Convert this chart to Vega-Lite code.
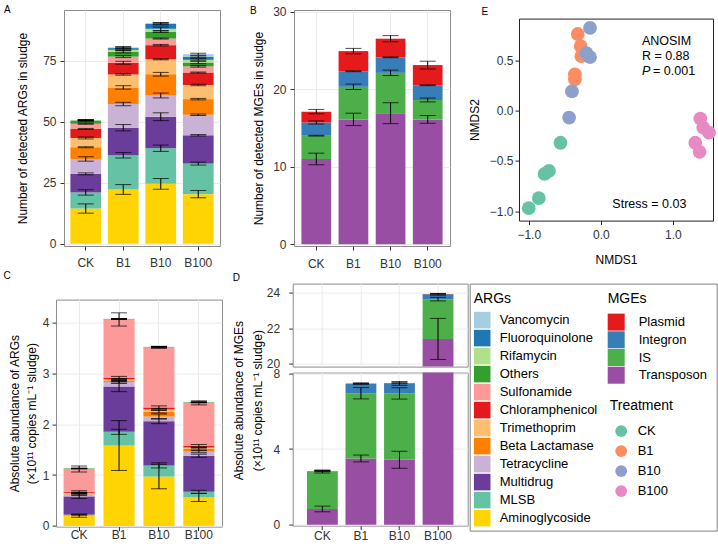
{
  "$schema": "https://vega.github.io/schema/vega-lite/v6.json",
  "padding": {"left": 2, "top": 4, "right": 0, "bottom": 0},
  "spacing": 0.6,
  "resolve": {"scale": {"color": "independent"}, "legend": {"color": "independent"}},
  "config": {
    "font": "Liberation Sans",
    "view": {"stroke": "#8c8c8c"},
    "axis": {"labelFont": "Liberation Sans", "labelFontSize": 12, "labelColor": "#333333", "titleFont": "Liberation Sans", "titleFontSize": 12, "titleFontWeight": "normal", "titleColor": "#000000", "tickColor": "#333333", "tickSize": 4, "domain": false, "gridColor": "#EBEBEB", "labelPadding": 4},
    "title": {"font": "Liberation Sans", "fontSize": 10, "fontWeight": "normal", "anchor": "start", "frame": "group", "offset": 0, "color": "#000000"},
    "legend": {"labelFont": "Liberation Sans", "titleFont": "Liberation Sans", "labelFontSize": 13, "titleFontSize": 14, "titleFontWeight": "normal", "labelColor": "#000000", "titleColor": "#000000", "padding": 0}
  },
  "datasets": {
    "argN": [
      {"trt": "CK", "cat": "Aminoglycoside", "v": 14.4, "e": 1.9},
      {"trt": "CK", "cat": "MLSB", "v": 6.6, "e": 1.1},
      {"trt": "CK", "cat": "Multidrug", "v": 7.6, "e": 0.4},
      {"trt": "CK", "cat": "Tetracycline", "v": 6.1, "e": 0.9},
      {"trt": "CK", "cat": "Beta Lactamase", "v": 4.8, "e": 0.2},
      {"trt": "CK", "cat": "Trimethoprim", "v": 3.8, "e": 0.4},
      {"trt": "CK", "cat": "Chloramphenicol", "v": 3.7, "e": 0.2},
      {"trt": "CK", "cat": "Sulfonamide", "v": 2.1, "e": 0.2},
      {"trt": "CK", "cat": "Others", "v": 1.2, "e": 0.4},
      {"trt": "CK", "cat": "Rifamycin", "v": 0.2, "e": 0.2},
      {"trt": "CK", "cat": "Fluoroquinolone", "v": 0.1, "e": 0.1},
      {"trt": "CK", "cat": "Vancomycin", "v": 0, "e": 0},
      {"trt": "B1", "cat": "Aminoglycoside", "v": 22.2, "e": 2.0},
      {"trt": "B1", "cat": "MLSB", "v": 14.0, "e": 1.1},
      {"trt": "B1", "cat": "Multidrug", "v": 11.3, "e": 1.3},
      {"trt": "B1", "cat": "Tetracycline", "v": 9.7, "e": 0.7},
      {"trt": "B1", "cat": "Beta Lactamase", "v": 6.8, "e": 0.7},
      {"trt": "B1", "cat": "Trimethoprim", "v": 5.3, "e": 0.3},
      {"trt": "B1", "cat": "Chloramphenicol", "v": 4.8, "e": 0.6},
      {"trt": "B1", "cat": "Sulfonamide", "v": 2.5, "e": 0.4},
      {"trt": "B1", "cat": "Others", "v": 2.0, "e": 0.5},
      {"trt": "B1", "cat": "Rifamycin", "v": 0.8, "e": 0.4},
      {"trt": "B1", "cat": "Fluoroquinolone", "v": 0.7, "e": 0.4},
      {"trt": "B1", "cat": "Vancomycin", "v": 0.3, "e": 0.3},
      {"trt": "B10", "cat": "Aminoglycoside", "v": 24.5, "e": 2.2},
      {"trt": "B10", "cat": "MLSB", "v": 14.6, "e": 1.3},
      {"trt": "B10", "cat": "Multidrug", "v": 12.9, "e": 1.6},
      {"trt": "B10", "cat": "Tetracycline", "v": 8.7, "e": 1.0},
      {"trt": "B10", "cat": "Beta Lactamase", "v": 8.7, "e": 0.75},
      {"trt": "B10", "cat": "Trimethoprim", "v": 6.1, "e": 0.2},
      {"trt": "B10", "cat": "Chloramphenicol", "v": 5.8, "e": 0.3},
      {"trt": "B10", "cat": "Sulfonamide", "v": 2.7, "e": 0.2},
      {"trt": "B10", "cat": "Others", "v": 2.8, "e": 0.3},
      {"trt": "B10", "cat": "Rifamycin", "v": 1.2, "e": 0.7},
      {"trt": "B10", "cat": "Fluoroquinolone", "v": 2.0, "e": 0.4},
      {"trt": "B10", "cat": "Vancomycin", "v": 0.3, "e": 0.3},
      {"trt": "B100", "cat": "Aminoglycoside", "v": 20.3, "e": 1.5},
      {"trt": "B100", "cat": "MLSB", "v": 12.5, "e": 0.6},
      {"trt": "B100", "cat": "Multidrug", "v": 11.6, "e": 0.3},
      {"trt": "B100", "cat": "Tetracycline", "v": 8.4, "e": 0.3},
      {"trt": "B100", "cat": "Beta Lactamase", "v": 6.4, "e": 0.3},
      {"trt": "B100", "cat": "Trimethoprim", "v": 5.8, "e": 0.3},
      {"trt": "B100", "cat": "Chloramphenicol", "v": 5.1, "e": 0.2},
      {"trt": "B100", "cat": "Sulfonamide", "v": 2.5, "e": 0.3},
      {"trt": "B100", "cat": "Others", "v": 1.6, "e": 0.5},
      {"trt": "B100", "cat": "Rifamycin", "v": 1.1, "e": 0.4},
      {"trt": "B100", "cat": "Fluoroquinolone", "v": 1.2, "e": 0.4},
      {"trt": "B100", "cat": "Vancomycin", "v": 1.1, "e": 0.4}
    ],
    "argA": [
      {"trt": "CK", "cat": "Aminoglycoside", "v": 0.20, "e": 0.03},
      {"trt": "CK", "cat": "MLSB", "v": 0.02, "e": 0.01},
      {"trt": "CK", "cat": "Multidrug", "v": 0.36, "e": 0.04},
      {"trt": "CK", "cat": "Tetracycline", "v": 0.04, "e": 0.02},
      {"trt": "CK", "cat": "Beta Lactamase", "v": 0.02, "e": 0.01},
      {"trt": "CK", "cat": "Trimethoprim", "v": 0.01, "e": 0.01},
      {"trt": "CK", "cat": "Chloramphenicol", "v": 0.02, "e": 0.02},
      {"trt": "CK", "cat": "Sulfonamide", "v": 0.45, "e": 0.06},
      {"trt": "CK", "cat": "Others", "v": 0.01, "e": 0.01},
      {"trt": "CK", "cat": "Rifamycin", "v": 0, "e": 0},
      {"trt": "CK", "cat": "Fluoroquinolone", "v": 0, "e": 0},
      {"trt": "CK", "cat": "Vancomycin", "v": 0, "e": 0},
      {"trt": "B1", "cat": "Aminoglycoside", "v": 1.58, "e": 0.49},
      {"trt": "B1", "cat": "MLSB", "v": 0.27, "e": 0.05},
      {"trt": "B1", "cat": "Multidrug", "v": 0.89, "e": 0.1},
      {"trt": "B1", "cat": "Tetracycline", "v": 0.09, "e": 0.03},
      {"trt": "B1", "cat": "Beta Lactamase", "v": 0.03, "e": 0.03},
      {"trt": "B1", "cat": "Trimethoprim", "v": 0.02, "e": 0.02},
      {"trt": "B1", "cat": "Chloramphenicol", "v": 0.03, "e": 0.03},
      {"trt": "B1", "cat": "Sulfonamide", "v": 1.15, "e": 0.13},
      {"trt": "B1", "cat": "Others", "v": 0.01, "e": 0},
      {"trt": "B1", "cat": "Rifamycin", "v": 0, "e": 0},
      {"trt": "B1", "cat": "Fluoroquinolone", "v": 0, "e": 0},
      {"trt": "B1", "cat": "Vancomycin", "v": 0, "e": 0},
      {"trt": "B10", "cat": "Aminoglycoside", "v": 0.97, "e": 0.24},
      {"trt": "B10", "cat": "MLSB", "v": 0.22, "e": 0.05},
      {"trt": "B10", "cat": "Multidrug", "v": 0.87, "e": 0.05},
      {"trt": "B10", "cat": "Tetracycline", "v": 0.09, "e": 0.05},
      {"trt": "B10", "cat": "Beta Lactamase", "v": 0.10, "e": 0.03},
      {"trt": "B10", "cat": "Trimethoprim", "v": 0.04, "e": 0.02},
      {"trt": "B10", "cat": "Chloramphenicol", "v": 0.04, "e": 0.03},
      {"trt": "B10", "cat": "Sulfonamide", "v": 1.18, "e": 0.02},
      {"trt": "B10", "cat": "Others", "v": 0.01, "e": 0.01},
      {"trt": "B10", "cat": "Rifamycin", "v": 0, "e": 0},
      {"trt": "B10", "cat": "Fluoroquinolone", "v": 0, "e": 0},
      {"trt": "B10", "cat": "Vancomycin", "v": 0, "e": 0},
      {"trt": "B100", "cat": "Aminoglycoside", "v": 0.56, "e": 0.08},
      {"trt": "B100", "cat": "MLSB", "v": 0.11, "e": 0.03},
      {"trt": "B100", "cat": "Multidrug", "v": 0.71, "e": 0.03},
      {"trt": "B100", "cat": "Tetracycline", "v": 0.08, "e": 0.02},
      {"trt": "B100", "cat": "Beta Lactamase", "v": 0.06, "e": 0.03},
      {"trt": "B100", "cat": "Trimethoprim", "v": 0.02, "e": 0.01},
      {"trt": "B100", "cat": "Chloramphenicol", "v": 0.03, "e": 0.03},
      {"trt": "B100", "cat": "Sulfonamide", "v": 0.85, "e": 0.04},
      {"trt": "B100", "cat": "Others", "v": 0.01, "e": 0.01},
      {"trt": "B100", "cat": "Rifamycin", "v": 0, "e": 0},
      {"trt": "B100", "cat": "Fluoroquinolone", "v": 0, "e": 0},
      {"trt": "B100", "cat": "Vancomycin", "v": 0, "e": 0}
    ],
    "mgeN": [
      {"trt": "CK", "cat": "Transposon", "v": 11.0, "e": 0.75},
      {"trt": "CK", "cat": "IS", "v": 3.0, "e": 0.05},
      {"trt": "CK", "cat": "Integron", "v": 1.7, "e": 0.2},
      {"trt": "CK", "cat": "Plasmid", "v": 1.4, "e": 0.28},
      {"trt": "B1", "cat": "Transposon", "v": 16.1, "e": 0.8},
      {"trt": "B1", "cat": "IS", "v": 4.2, "e": 0.35},
      {"trt": "B1", "cat": "Integron", "v": 2.0, "e": 0.05},
      {"trt": "B1", "cat": "Plasmid", "v": 2.6, "e": 0.35},
      {"trt": "B10", "cat": "Transposon", "v": 16.9, "e": 1.35},
      {"trt": "B10", "cat": "IS", "v": 5.2, "e": 0.35},
      {"trt": "B10", "cat": "Integron", "v": 2.0, "e": 0.05},
      {"trt": "B10", "cat": "Plasmid", "v": 2.4, "e": 0.4},
      {"trt": "B100", "cat": "Transposon", "v": 16.1, "e": 0.5},
      {"trt": "B100", "cat": "IS", "v": 2.5, "e": 0.25},
      {"trt": "B100", "cat": "Integron", "v": 1.9, "e": 0.05},
      {"trt": "B100", "cat": "Plasmid", "v": 2.6, "e": 0.5}
    ],
    "mgeA": [
      {"trt": "CK", "cat": "Transposon", "v": 0.83, "e": 0.15},
      {"trt": "CK", "cat": "IS", "v": 1.98, "e": 0.08},
      {"trt": "CK", "cat": "Integron", "v": 0.03, "e": 0.02},
      {"trt": "CK", "cat": "Plasmid", "v": 0, "e": 0},
      {"trt": "B1", "cat": "Transposon", "v": 3.50, "e": 0.18},
      {"trt": "B1", "cat": "IS", "v": 3.45, "e": 0.3},
      {"trt": "B1", "cat": "Integron", "v": 0.50, "e": 0.03},
      {"trt": "B1", "cat": "Plasmid", "v": 0.02, "e": 0.02},
      {"trt": "B10", "cat": "Transposon", "v": 3.43, "e": 0.45},
      {"trt": "B10", "cat": "IS", "v": 3.51, "e": 0.3},
      {"trt": "B10", "cat": "Integron", "v": 0.53, "e": 0.1},
      {"trt": "B10", "cat": "Plasmid", "v": 0.02, "e": 0.02},
      {"trt": "B100", "cat": "Transposon", "v": 21.4, "e": 1.15},
      {"trt": "B100", "cat": "IS", "v": 2.23, "e": 0.1},
      {"trt": "B100", "cat": "Integron", "v": 0.27, "e": 0.05},
      {"trt": "B100", "cat": "Plasmid", "v": 0.02, "e": 0.02}
    ],
    "nmds": [
      {"trt": "CK", "x": -1.0, "y": -0.97},
      {"trt": "CK", "x": -0.86, "y": -0.87},
      {"trt": "CK", "x": -0.78, "y": -0.63},
      {"trt": "CK", "x": -0.72, "y": -0.60},
      {"trt": "CK", "x": -0.56, "y": -0.32},
      {"trt": "B1", "x": -0.32, "y": 0.76},
      {"trt": "B1", "x": -0.28, "y": 0.64},
      {"trt": "B1", "x": -0.27, "y": 0.54},
      {"trt": "B1", "x": -0.36, "y": 0.36},
      {"trt": "B1", "x": -0.36, "y": 0.31},
      {"trt": "B10", "x": -0.15, "y": 0.82},
      {"trt": "B10", "x": -0.20, "y": 0.57},
      {"trt": "B10", "x": -0.15, "y": 0.53},
      {"trt": "B10", "x": -0.40, "y": 0.19},
      {"trt": "B10", "x": -0.44, "y": -0.07},
      {"trt": "B100", "x": 1.38, "y": -0.08},
      {"trt": "B100", "x": 1.42, "y": -0.17},
      {"trt": "B100", "x": 1.50, "y": -0.22},
      {"trt": "B100", "x": 1.31, "y": -0.32},
      {"trt": "B100", "x": 1.37, "y": -0.41}
    ],
    "anno": [
      {"label": "ANOSIM", "x": 0.57, "y": 0.69, "it": 0},
      {"label": "R = 0.88", "x": 0.57, "y": 0.54, "it": 0},
      {"label": "P", "x": 0.57, "y": 0.39, "it": 1},
      {"label": "= 0.001", "x": 0.725, "y": 0.39, "it": 0},
      {"label": "Stress = 0.03", "x": 0.16, "y": -0.925, "it": 0}
    ]
  },
  "vconcat": [
    {
      "spacing": 28,
      "resolve": {"scale": {"color": "independent"}, "legend": {"color": "independent"}},
      "hconcat": [
        {
          "spacing": 7,
          "bounds": "flush",
          "resolve": {"scale": {"color": "independent"}, "legend": {"color": "independent"}},
          "hconcat": [
            {"width": 1, "height": 1, "data": {"values": [{}]}, "mark": {"type": "point", "opacity": 0}, "view": {"stroke": null}},
            {
              "title": {"text": "A", "dx": -60, "dy": 9.3},
              "width": 156, "height": 236,
              "data": {"name": "argN"},
              "transform": [
                {"window": [{"op": "row_number", "as": "idx"}]},
                {"stack": "v", "groupby": ["trt"], "sort": [{"field": "idx"}], "as": ["v0", "v1"]}
              ],
              "encoding": {
                "x": {"field": "trt", "type": "nominal", "sort": ["CK", "B1", "B10", "B100"], "scale": {"paddingInner": 0.18, "paddingOuter": 0.17}, "axis": {"title": null, "labelAngle": 0, "grid": true, "bandPosition": 0.5, "labelPadding": 7.5}}
              },
              "layer": [
                {
                  "mark": {"type": "bar"},
                  "encoding": {
                    "y": {"field": "v0", "type": "quantitative", "title": "Number of detected ARGs in sludge", "scale": {"domain": [-0.94, 95.7], "nice": false, "zero": false},
                      "axis": {"values": [0, 12.5, 25, 37.5, 50, 62.5, 75, 87.5], "format": ".0f", "labelExpr": "datum.value % 25 === 0 ? datum.label : ''", "tickOpacity": {"condition": {"test": "datum.value % 25 === 0", "value": 1}, "value": 0}, "gridWidth": {"condition": {"test": "datum.value % 25 === 0", "value": 1}, "value": 0.5}, "titlePadding": 13.5}},
                    "y2": {"field": "v1"},
                    "color": {"field": "cat", "type": "nominal", "legend": null,
                      "scale": {"domain": ["Vancomycin", "Fluoroquinolone", "Rifamycin", "Others", "Sulfonamide", "Chloramphenicol", "Trimethoprim", "Beta Lactamase", "Tetracycline", "Multidrug", "MLSB", "Aminoglycoside"], "range": ["#A6CEE3", "#1F78B4", "#B2DF8A", "#33A02C", "#FB9A99", "#E31A1C", "#FDBF6F", "#FF7F00", "#CAB2D6", "#6A3D9A", "#66C2A5", "#FFD400"]}}
                  }
                },
                {
                  "mark": {"type": "errorbar", "ticks": true, "size": 16, "thickness": 1, "color": "#000000"},
                  "encoding": {"y": {"field": "v1", "type": "quantitative", "title": "Number of detected ARGs in sludge"}, "yError": {"field": "e"}}
                }
              ]
            }
          ]
        },
        {
          "spacing": 16,
          "resolve": {"scale": {"color": "independent"}, "legend": {"color": "independent"}},
          "hconcat": [
            {
              "title": {"text": "B", "dx": -44, "dy": 14.5},
              "width": 156, "height": 236,
              "data": {"name": "mgeN"},
              "transform": [
                {"window": [{"op": "row_number", "as": "idx"}]},
                {"stack": "v", "groupby": ["trt"], "sort": [{"field": "idx"}], "as": ["v0", "v1"]}
              ],
              "encoding": {
                "x": {"field": "trt", "type": "nominal", "sort": ["CK", "B1", "B10", "B100"], "scale": {"paddingInner": 0.2, "paddingOuter": 0.2}, "axis": {"title": null, "labelAngle": 0, "grid": true, "bandPosition": 0.5, "labelPadding": 8.5}}
              },
              "layer": [
                {
                  "mark": {"type": "bar"},
                  "encoding": {
                    "y": {"field": "v0", "type": "quantitative", "title": "Number of detected MGEs in sludge", "scale": {"domain": [-0.22, 30.2], "nice": false, "zero": false},
                      "axis": {"values": [0, 5, 10, 15, 20, 25, 30], "format": ".0f", "labelExpr": "datum.value % 10 === 0 ? datum.label : ''", "tickOpacity": {"condition": {"test": "datum.value % 10 === 0", "value": 1}, "value": 0}, "gridWidth": {"condition": {"test": "datum.value % 10 === 0", "value": 1}, "value": 0.5}, "titlePadding": 7}},
                    "y2": {"field": "v1"},
                    "color": {"field": "cat", "type": "nominal", "legend": null,
                      "scale": {"domain": ["Plasmid", "Integron", "IS", "Transposon"], "range": ["#E41A1C", "#377EB8", "#4DAF4A", "#984EA3"]}}
                  }
                },
                {
                  "mark": {"type": "errorbar", "ticks": true, "size": 16, "thickness": 1, "color": "#000000"},
                  "encoding": {"y": {"field": "v1", "type": "quantitative", "title": "Number of detected MGEs in sludge"}, "yError": {"field": "e"}}
                }
              ]
            },
            {
              "spacing": 7.6,
              "bounds": "flush",
              "resolve": {"scale": {"color": "independent"}, "legend": {"color": "independent"}},
              "vconcat": [
                {"width": 1, "height": 1, "data": {"values": [{}]}, "mark": {"type": "point", "opacity": 0}, "view": {"stroke": null}},
                {
                  "title": {"text": "E", "dx": -37.5, "dy": 2.8},
                  "width": 194, "height": 202,
                  "view": {"stroke": "#222222"},
                  "layer": [
                    {
                      "data": {"name": "nmds"},
                      "mark": {"type": "circle", "size": 190, "opacity": 1},
                      "encoding": {
                        "x": {"field": "x", "type": "quantitative", "title": "NMDS1", "scale": {"domain": [-1.135, 1.556], "nice": false, "zero": false},
                          "axis": {"values": [-1, -0.5, 0, 0.5, 1, 1.5], "format": ".1f", "grid": false, "tickColor": "#222222", "labelPadding": 5, "titlePadding": 14}},
                        "y": {"field": "y", "type": "quantitative", "title": "NMDS2", "scale": {"domain": [-1.093, 0.913], "nice": false, "zero": false},
                          "axis": {"values": [-1, -0.5, 0, 0.5], "format": ".1f", "grid": false, "tickColor": "#222222", "labelPadding": 2, "titlePadding": 8}},
                        "color": {"field": "trt", "type": "nominal", "legend": null, "scale": {"domain": ["CK", "B1", "B10", "B100"], "range": ["#66C2A5", "#FC8D62", "#8DA0CB", "#E78AC3"]}}
                      }
                    },
                    {
                      "mark": {"type": "rule", "color": "#222222", "strokeWidth": 1},
                      "encoding": {"x": {"datum": 0, "type": "quantitative"}}
                    },
                    {
                      "mark": {"type": "rule", "color": "#222222", "strokeWidth": 1},
                      "encoding": {"y": {"datum": 0, "type": "quantitative"}}
                    },
                    {
                      "data": {"name": "anno"},
                      "transform": [{"filter": "datum.it === 0"}],
                      "mark": {"type": "text", "align": "left", "baseline": "middle", "fontSize": 12.5, "color": "#000000"},
                      "encoding": {"x": {"field": "x", "type": "quantitative"}, "y": {"field": "y", "type": "quantitative"}, "text": {"field": "label"}}
                    },
                    {
                      "data": {"name": "anno"},
                      "transform": [{"filter": "datum.it === 1"}],
                      "mark": {"type": "text", "align": "left", "baseline": "middle", "fontSize": 12.5, "fontStyle": "italic", "color": "#000000"},
                      "encoding": {"x": {"field": "x", "type": "quantitative"}, "y": {"field": "y", "type": "quantitative"}, "text": {"field": "label"}}
                    }
                  ]
                }
              ]
            }
          ]
        }
      ]
    },
    {
      "spacing": 8.7,
      "resolve": {"scale": {"color": "independent"}, "legend": {"color": "independent"}},
      "hconcat": [
        {
          "spacing": 15,
          "bounds": "flush",
          "resolve": {"scale": {"color": "independent"}, "legend": {"color": "independent"}},
          "vconcat": [
            {"width": 1, "height": 1, "data": {"values": [{}]}, "mark": {"type": "point", "opacity": 0}, "view": {"stroke": null}},
            {
              "title": {"text": "C", "dx": -52.6, "dy": -14.5},
              "width": 166, "height": 227,
              "data": {"name": "argA"},
              "transform": [
                {"window": [{"op": "row_number", "as": "idx"}]},
                {"stack": "v", "groupby": ["trt"], "sort": [{"field": "idx"}], "as": ["v0", "v1"]}
              ],
              "encoding": {
                "x": {"field": "trt", "type": "nominal", "sort": ["CK", "B1", "B10", "B100"], "scale": {"paddingInner": 0.22, "paddingOuter": 0.19}, "axis": {"title": null, "labelAngle": 0, "grid": true, "bandPosition": 0.5, "labelPadding": -1}}
              },
              "layer": [
                {
                  "mark": {"type": "bar"},
                  "encoding": {
                    "y": {"field": "v0", "type": "quantitative", "title": ["Absolute abundance of  ARGs", "(×10¹¹ copies mL⁻¹ sludge)"], "scale": {"domain": [-0.014, 4.45], "nice": false, "zero": false},
                      "axis": {"values": [0, 0.5, 1, 1.5, 2, 2.5, 3, 3.5, 4], "format": ".0f", "labelExpr": "datum.value % 1 === 0 ? datum.label : ''", "tickOpacity": {"condition": {"test": "datum.value % 1 === 0", "value": 1}, "value": 0}, "gridWidth": {"condition": {"test": "datum.value % 1 === 0", "value": 1}, "value": 0.5}, "titlePadding": 3.5, "titleLineHeight": 17, "labelPadding": 3}},
                    "y2": {"field": "v1"},
                    "color": {"field": "cat", "type": "nominal", "legend": null,
                      "scale": {"domain": ["Vancomycin", "Fluoroquinolone", "Rifamycin", "Others", "Sulfonamide", "Chloramphenicol", "Trimethoprim", "Beta Lactamase", "Tetracycline", "Multidrug", "MLSB", "Aminoglycoside"], "range": ["#A6CEE3", "#1F78B4", "#B2DF8A", "#33A02C", "#FB9A99", "#E31A1C", "#FDBF6F", "#FF7F00", "#CAB2D6", "#6A3D9A", "#66C2A5", "#FFD400"]}}
                  }
                },
                {
                  "mark": {"type": "errorbar", "ticks": true, "size": 16, "thickness": 1, "color": "#000000"},
                  "encoding": {"y": {"field": "v1", "type": "quantitative", "title": ["Absolute abundance of  ARGs", "(×10¹¹ copies mL⁻¹ sludge)"]}, "yError": {"field": "e"}}
                }
              ]
            }
          ]
        },
        {
          "spacing": 0,
          "resolve": {"scale": {"color": "independent"}, "legend": {"color": "independent"}},
          "hconcat": [
            {
              "spacing": 6,
              "bounds": "flush",
              "resolve": {"scale": {"color": "independent"}, "legend": {"color": "independent"}},
              "vconcat": [
                {
                  "title": {"text": "D", "dx": -60, "dy": 3.8},
                  "width": 175, "height": 83,
                  "data": {"name": "mgeA"},
                  "transform": [
                    {"window": [{"op": "row_number", "as": "idx"}]},
                    {"stack": "v", "groupby": ["trt"], "sort": [{"field": "idx"}], "as": ["v0", "v1"]}
                  ],
                  "encoding": {
                    "x": {"field": "trt", "type": "nominal", "sort": ["CK", "B1", "B10", "B100"], "scale": {"paddingInner": 0.2, "paddingOuter": 0.37}, "axis": {"title": null, "labels": false, "ticks": false, "grid": true, "bandPosition": 0.5}}
                  },
                  "layer": [
                    {
                      "mark": {"type": "bar", "clip": true},
                      "encoding": {
                        "y": {"field": "v0", "type": "quantitative", "title": null, "scale": {"domain": [19.85, 24.5], "nice": false, "zero": false},
                          "axis": {"values": [20, 21, 22, 23, 24], "format": ".0f", "labelExpr": "datum.value % 2 === 0 ? datum.label : ''", "tickOpacity": {"condition": {"test": "datum.value % 2 === 0", "value": 1}, "value": 0}, "gridWidth": {"condition": {"test": "datum.value % 2 === 0", "value": 1}, "value": 0.5}, "labelPadding": 9}},
                        "y2": {"field": "v1"},
                        "color": {"field": "cat", "type": "nominal", "legend": null,
                          "scale": {"domain": ["Plasmid", "Integron", "IS", "Transposon"], "range": ["#E41A1C", "#377EB8", "#4DAF4A", "#984EA3"]}}
                      }
                    },
                    {
                      "transform": [{"filter": "datum.v1 > 15"}],
                      "mark": {"type": "errorbar", "ticks": true, "size": 16, "thickness": 1, "color": "#000000"},
                      "encoding": {"y": {"field": "v1", "type": "quantitative", "title": null}, "yError": {"field": "e"}}
                    }
                  ]
                },
                {
                  "width": 175, "height": 153,
                  "data": {"name": "mgeA"},
                  "transform": [
                    {"window": [{"op": "row_number", "as": "idx"}]},
                    {"stack": "v", "groupby": ["trt"], "sort": [{"field": "idx"}], "as": ["v0", "v1"]}
                  ],
                  "encoding": {
                    "x": {"field": "trt", "type": "nominal", "sort": ["CK", "B1", "B10", "B100"], "scale": {"paddingInner": 0.2, "paddingOuter": 0.37}, "axis": {"title": null, "labelAngle": 0, "grid": true, "bandPosition": 0.5, "labelPadding": 0.5}}
                  },
                  "layer": [
                    {
                      "mark": {"type": "bar", "clip": true},
                      "encoding": {
                        "y": {"field": "v0", "type": "quantitative", "title": ["Absolute abundance of  MGEs", "(×10¹¹ copies mL⁻¹ sludge)"], "scale": {"domain": [-0.05, 8.04], "nice": false, "zero": false},
                          "axis": {"values": [0, 1, 2, 3, 4, 5, 6, 7, 8], "format": ".0f", "labelExpr": "datum.value % 2 === 0 ? datum.label : ''", "tickOpacity": {"condition": {"test": "datum.value % 2 === 0", "value": 1}, "value": 0}, "gridWidth": {"condition": {"test": "datum.value % 2 === 0", "value": 1}, "value": 0.5}, "labelPadding": 9, "titleX": -47, "titleY": 27.5, "titleBaseline": "bottom", "titleAlign": "center", "titleLineHeight": 19}},
                        "y2": {"field": "v1"},
                        "color": {"field": "cat", "type": "nominal", "legend": null,
                          "scale": {"domain": ["Plasmid", "Integron", "IS", "Transposon"], "range": ["#E41A1C", "#377EB8", "#4DAF4A", "#984EA3"]}}
                      }
                    },
                    {
                      "transform": [{"filter": "datum.v1 < 9"}],
                      "mark": {"type": "errorbar", "ticks": true, "size": 16, "thickness": 1, "color": "#000000"},
                      "encoding": {"y": {"field": "v1", "type": "quantitative", "title": ["Absolute abundance of  MGEs", "(×10¹¹ copies mL⁻¹ sludge)"]}, "yError": {"field": "e"}}
                    }
                  ]
                }
              ]
            },
            {
              "width": 247, "height": 247,
              "view": {"stroke": "#808080"},
              "resolve": {"scale": {"color": "independent"}, "legend": {"color": "independent"}},
              "layer": [
                {
                  "data": {"values": []},
                  "mark": {"type": "square"},
                  "encoding": {"color": {"field": "c", "type": "nominal",
                    "scale": {"domain": ["Vancomycin", "Fluoroquinolone", "Rifamycin", "Others", "Sulfonamide", "Chloramphenicol", "Trimethoprim", "Beta Lactamase", "Tetracycline", "Multidrug", "MLSB", "Aminoglycoside"], "range": ["#A6CEE3", "#1F78B4", "#B2DF8A", "#33A02C", "#FB9A99", "#E31A1C", "#FDBF6F", "#FF7F00", "#CAB2D6", "#6A3D9A", "#66C2A5", "#FFD400"]},
                    "legend": {"title": "ARGs", "orient": "none", "legendX": 4, "legendY": 8, "symbolType": "square", "symbolSize": 275, "symbolStrokeWidth": 0, "symbolOpacity": 1, "rowPadding": 1, "labelOffset": 9, "titlePadding": 6}}}
                },
                {
                  "data": {"values": []},
                  "mark": {"type": "square"},
                  "encoding": {"color": {"field": "m", "type": "nominal",
                    "scale": {"domain": ["Plasmid", "Integron", "IS", "Transposon"], "range": ["#E41A1C", "#377EB8", "#4DAF4A", "#984EA3"]},
                    "legend": {"title": "MGEs", "orient": "none", "legendX": 138, "legendY": 8, "symbolType": "square", "symbolSize": 289, "symbolStrokeWidth": 0, "symbolOpacity": 1, "rowPadding": 0.7, "labelOffset": 14, "titlePadding": 8}}}
                },
                {
                  "data": {"values": []},
                  "mark": {"type": "circle"},
                  "encoding": {"color": {"field": "t", "type": "nominal",
                    "scale": {"domain": ["CK", "B1", "B10", "B100"], "range": ["#66C2A5", "#FC8D62", "#8DA0CB", "#E78AC3"]},
                    "legend": {"title": "Treatment", "orient": "none", "legendX": 140, "legendY": 115, "symbolType": "circle", "symbolSize": 140, "symbolStrokeWidth": 0, "symbolOpacity": 1, "symbolOffset": 5, "rowPadding": 6, "labelOffset": 10, "titlePadding": 12}}}
                }
              ]
            }
          ]
        }
      ]
    }
  ]
}
